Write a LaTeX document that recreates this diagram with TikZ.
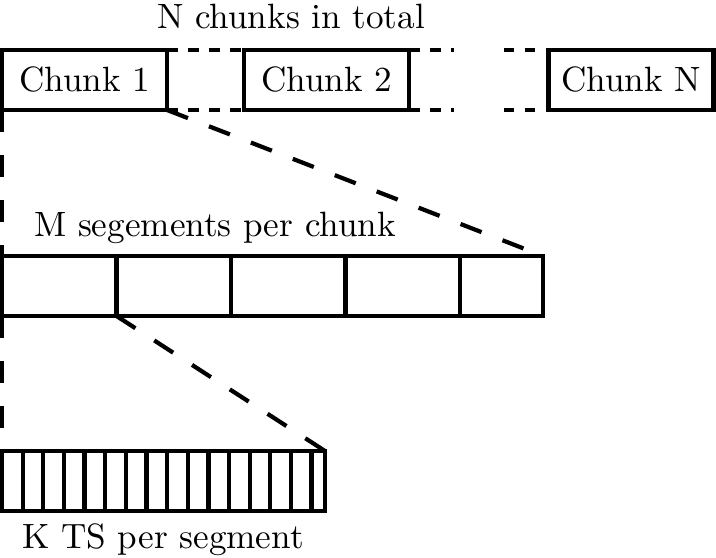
\documentclass[tikz,border=0pt]{standalone}
\usetikzlibrary{positioning, calc}

\begin{document}
\begin{tikzpicture}[
    chunkbox/.style={draw, line width=1.2pt, minimum width=1.65cm, minimum height=0.6cm, outer sep=0pt},
    rowbox/.style={draw, line width=1.2pt, minimum height=0.6cm, inner sep=0pt, outer sep=0pt, anchor=north west},
    gapline/.style={line width=1.2pt, dash pattern=on 3pt off 3pt},
    zoomline/.style={line width=1.2pt, dash pattern=on 6.4pt off 6.4pt}
  ]
    \useasboundingbox (0,0) rectangle (7.16,-5.58);

    \node[chunkbox] (c1) at (0.845,-0.80) {Chunk 1};
    \node[chunkbox] (c2) at (3.265,-0.80) {Chunk 2};
    \node[chunkbox] (cN) at (6.31,-0.80) {Chunk N};
    \node (total) at (2.91,-0.17) {N chunks in total};

    \coordinate[right=0.45cm of c2.north east] (g2n);
    \coordinate[right=0.45cm of c2.south east] (g2s);
    \coordinate[left=0.45cm of cN.north west] (gNn);
    \coordinate[left=0.45cm of cN.south west] (gNs);
    \draw[gapline] (c1.north east) -- (c2.north west);
    \draw[gapline] (c1.south east) -- (c2.south west);
    \draw[gapline] (c2.north east) -- (g2n);
    \draw[gapline] (c2.south east) -- (g2s);
    \draw[gapline] (gNn) -- (cN.north west);
    \draw[gapline] (gNs) -- (cN.south west);

    \node[rowbox, minimum width=5.41cm] (seg) at (0.02,-2.56) {};
    \foreach \i in {1,...,4}
      \draw[line width=1.2pt] ([xshift=\i*1.145cm]seg.north west) -- ([xshift=\i*1.145cm]seg.south west);
    \coordinate (s1) at ([xshift=1.145cm]seg.south west);
    \node (msegs) at (2.15,-2.28) {M segements per chunk};

    \node[rowbox, minimum width=3.23cm] (ts) at (0.02,-4.51) {};
    \foreach \i in {1,...,15}
      \draw[line width=1.2pt] ([xshift=\i*2.064mm]ts.north west) -- ([xshift=\i*2.064mm]ts.south west);
    \node (kts) at (1.63,-5.40) {K TS per segment};

    \draw[zoomline] (c1.south east) -- (seg.north east);
    \draw[zoomline] (c1.south west) -- (seg.north west);
    \draw[zoomline] (s1) -- (ts.north east);
    \draw[zoomline] (seg.south west) -- (ts.north west);
  \end{tikzpicture}
\end{document}
